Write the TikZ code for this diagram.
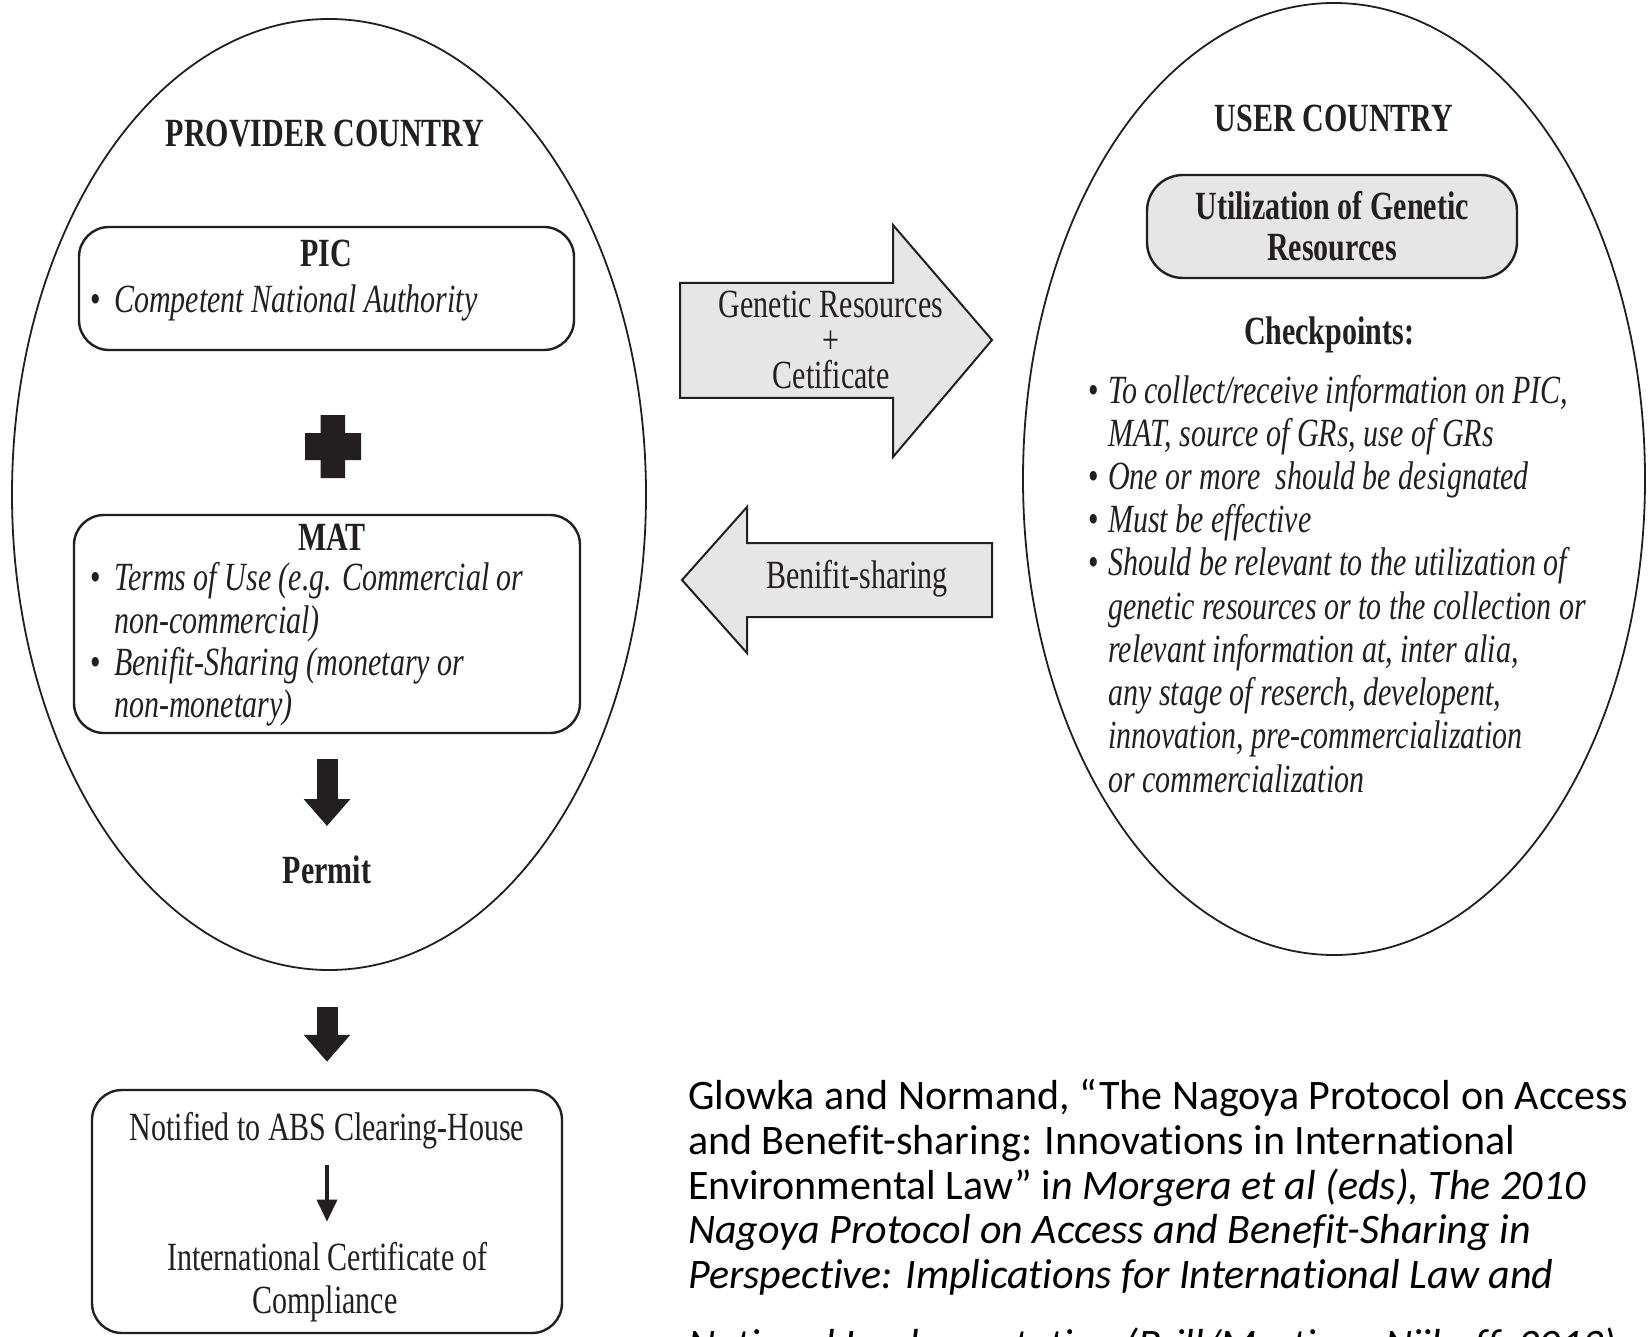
\documentclass[tikz,border=0pt]{standalone}
\usepackage{fontspec}
\usetikzlibrary{shapes.geometric,arrows.meta}
\newfontfamily\diagfont{Liberation Serif}[FakeStretch=0.75]
\newfontfamily\citefont{Carlito}[Ligatures=NoCommon]
\definecolor{ink}{HTML}{231F20}
\definecolor{shade}{HTML}{E6E6E6}
\begin{document}
\begin{tikzpicture}[x=1pt, y=-1pt, line join=round,
    every node/.style={inner sep=0pt, text=ink},
    country/.style={draw=ink, line width=1.8pt, ellipse},
    panel/.style={draw=ink, line width=2.4pt, rounded corners=30pt},
    headtext/.style={font=\diagfont\bfseries\fontsize{40}{43}\selectfont, anchor=base},
    bodytext/.style={font=\diagfont\fontsize{40}{43}\selectfont, anchor=base},
    itemtext/.style={font=\diagfont\itshape\fontsize{40}{43}\selectfont, anchor=base west},
    bulletmark/.style={font=\diagfont\fontsize{40}{43}\selectfont, anchor=base east},
    citeline/.style={font=\citefont\fontsize{42}{44.5}\selectfont, anchor=base west, text=black},
    fatarrow/.style={draw=ink, line width=21pt, -{Triangle[width=45pt,length=27pt]}},
    thinarrow/.style={draw=ink, line width=3.5pt, -{Triangle[width=20pt,length=22pt]}},
    flowarrow/.style={draw=ink, fill=shade, line width=2pt, line join=miter}]
  \useasboundingbox (0,0) rectangle (1649,1337);
  \clip (0,0) rectangle (1649,1337);
  % the two countries
  \node[country, minimum width=634pt, minimum height=951pt] (provider) at (329,494.5) {};
  \node[country, minimum width=622pt, minimum height=952pt] (user) at (1334,479) {};
  % provider side
  \node[headtext] (provtitle) at (325,147) {PROVIDER COUNTRY};
  \node[panel, minimum width=495pt, minimum height=123pt] (picbox) at (326.5,288.5) {};
  \node[headtext] (pichead) at (326,267) {PIC};
  \node[bulletmark] (picdot) at (101,313) {\textbullet};
  \node[itemtext] (picitem) at (114,313) {Competent National Authority};
  \fill[ink] (320.5,415) rectangle (345,478) (305,433) rectangle (361,460);
  \node[panel, minimum width=506pt, minimum height=218pt] (matbox) at (327,624) {};
  \node[headtext] (mathead) at (332,550) {MAT};
  \foreach \y/\t in {590/{Terms of Use (e.g. Commercial or}, 633/{non-commercial)},
      675/{Benifit-Sharing (monetary or}, 717/{non-monetary)}}
    \node[itemtext] (mat\y) at (114,\y) {\t};
  \foreach \y in {590,675} \node[bulletmark] (matdot\y) at (101,\y) {\textbullet};
  \node[headtext] (permit) at (327,883) {Permit};
  \draw[fatarrow, shorten <=25pt, shorten >=29pt] (matbox.south) -- (permit.north);
  % certificate
  \node[panel, minimum width=470pt, minimum height=243pt] (notebox) at (327,1211.5) {};
  \draw[fatarrow, shorten <=36pt, shorten >=27pt] (provider.south -| notebox.north) -- (notebox.north);
  \node[bodytext] (notified) at (327,1140) {Notified to ABS Clearing-House};
  \node[bodytext] (intl) at (327,1270) {International Certificate of};
  \node[bodytext] (compliance) at (325,1313) {Compliance};
  \draw[thinarrow, shorten <=16pt, shorten >=20pt] (notified.south) -- (intl.north);
  % exchange between the countries
  \draw[flowarrow] (680,283) -- (893,283) -- (893,225) -- (992,340) -- (893,457) -- (893,398) -- (680,398) -- cycle;
  \node[bodytext, anchor=center, align=center, font=\diagfont\fontsize{40}{35.5}\selectfont] (give) at (831,340) {Genetic Resources\\+\\Cetificate};
  \draw[flowarrow] (992,543) -- (747,543) -- (747,507) -- (682,580) -- (747,653) -- (747,617) -- (992,617) -- cycle;
  \node[bodytext] (share) at (857,588) {Benifit-sharing};
  % user side
  \node[headtext] (usertitle) at (1334,132) {USER COUNTRY};
  \node[panel, fill=shade, rounded corners=36pt, minimum width=370pt, minimum height=103pt, align=center,
    font=\diagfont\bfseries\fontsize{40}{41}\selectfont] (utilbox) at (1332,226.5) {Utilization of Genetic\\Resources};
  \node[headtext] (checks) at (1329,345) {Checkpoints:};
  \foreach \y/\t in {403/{To collect/receive information on PIC,}, 446/{MAT, source of GRs, use of GRs},
      489/{One or more\ \ should be designated}, 532/{Must be effective},
      575/{Should be relevant to the utilization of}, 619/{genetic resources or to the collection or},
      662/{relevant information at, inter alia,}, 705/{any stage of reserch, developent,},
      748/{innovation, pre-commercialization}, 792/{or commercialization}}
    \node[itemtext] (chk\y) at (1108,\y) {\t};
  \foreach \y in {403,489,532,575} \node[bulletmark] (chkdot\y) at (1099,\y) {\textbullet};
  % source
  \foreach \y/\t in {1109/{Glowka and Normand, “The Nagoya Protocol on Access},
      1154/{and Benefit-sharing: Innovations in International},
      1199/{Environmental Law” i\textit{n Morgera et al (eds), The 2010}},
      1243/{\textit{Nagoya Protocol on Access and Benefit-Sharing in}},
      1288/{\textit{Perspective: Implications for International Law and}},
      1358/{\textit{National Implementation (Brill/Martinus Nijhoff, 2013)}}}
    \node[citeline] (cite\y) at (688,\y) {\t};
\end{tikzpicture}
\end{document}
